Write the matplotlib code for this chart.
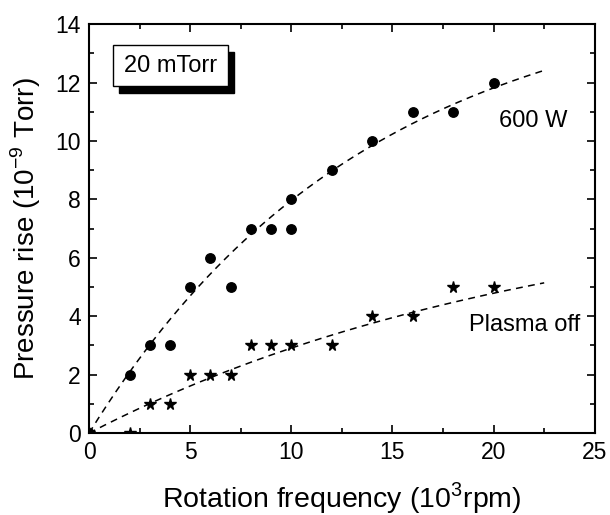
import numpy as np
import matplotlib
matplotlib.use("Agg")
import matplotlib.pyplot as plt
from matplotlib.patches import Rectangle
from matplotlib.ticker import MultipleLocator

plt.rcParams['font.family'] = ['Liberation Sans', 'DejaVu Sans']
plt.rcParams['mathtext.fontset'] = 'custom'
plt.rcParams['mathtext.rm'] = 'Liberation Sans'

# Data
x_600w = [0, 2, 3, 4, 5, 6, 7, 8, 9, 10, 10, 12, 14, 16, 18, 20]
y_600w = [0, 2, 3, 3, 5, 6, 5, 7, 7, 7, 8, 9, 10, 11, 11, 12]
x_off = [0, 2, 3, 4, 5, 6, 7, 8, 9, 10, 12, 14, 16, 18, 20]
y_off = [0, 0, 1, 1, 2, 2, 2, 3, 3, 3, 3, 4, 4, 5, 5]

# Dashed fit curves, values at a few positions
fit_x = [0, 2, 5, 10, 15, 22.5]
fit_600w = [0, 2.05, 4.75, 7.9, 10.3, 12.4]
fit_off = [0, 0.75, 1.6, 2.9, 3.95, 5.15]


def fit_saturating(x, y):
    """Least-squares fit of y = a*(1-exp(-x/b)) for a smooth curve."""
    x = np.asarray(x, float)
    y = np.asarray(y, float)
    best = None
    for b in np.linspace(2, 80, 3000):
        f = 1 - np.exp(-x / b)
        a = np.sum(y * f) / np.sum(f * f)
        err = np.sum((y - a * f) ** 2)
        if best is None or err < best[0]:
            best = (err, a, b)
    return best[1], best[2]


fig = plt.figure(figsize=(6.10, 5.15), dpi=100)
ax = fig.add_axes([0.146, 0.159, 0.829, 0.794])

xf = np.linspace(fit_x[0], fit_x[-1], 200)
for ys in (fit_600w, fit_off):
    a, b = fit_saturating(fit_x, ys)
    ax.plot(xf, a * (1 - np.exp(-xf / b)), color='black', lw=1.1,
            dashes=(4.5, 3.5), zorder=2)

ax.plot(x_600w, y_600w, 'o', color='black', markersize=6.8, zorder=3)
ax.plot(x_off, y_off, '*', color='black', markersize=8.5, zorder=3)

ax.set_xlim(0, 25)
ax.set_ylim(0, 14)
ax.xaxis.set_major_locator(MultipleLocator(5))
ax.xaxis.set_minor_locator(MultipleLocator(2.5))
ax.yaxis.set_major_locator(MultipleLocator(2))
ax.yaxis.set_minor_locator(MultipleLocator(1))
ax.tick_params(which='both', direction='in', top=True, right=True,
               width=1.2, labelsize=16.5, pad=6)
ax.tick_params(which='major', length=6)
ax.tick_params(which='minor', length=3.5)
for s in ax.spines.values():
    s.set_linewidth(1.5)

ax.set_xlabel('Rotation frequency (10$^3$rpm)', fontsize=20.5, labelpad=11)
ax.set_ylabel('Pressure rise (10$^{-9}$ Torr)', fontsize=20, labelpad=9)

ax.text(20.26, 10.7, '600 W', fontsize=17, ha='left', va='center')
ax.text(18.8, 3.7, 'Plasma off', fontsize=17, ha='left', va='center')

# Boxed label with drop shadow
bx0, by0, bw, bh = 0.047, 0.848, 0.228, 0.101
ax.add_patch(Rectangle((bx0 + 0.012, by0 - 0.017), bw, bh, transform=ax.transAxes,
                       facecolor='black', edgecolor='black', zorder=4))
ax.add_patch(Rectangle((bx0, by0), bw, bh, transform=ax.transAxes,
                       facecolor='white', edgecolor='black', lw=1.0, zorder=5))
ax.text(bx0 + bw / 2, by0 + bh / 2, '20 mTorr', transform=ax.transAxes,
        fontsize=17, ha='center', va='center', zorder=6)

fig.savefig('out.png', dpi=100)
